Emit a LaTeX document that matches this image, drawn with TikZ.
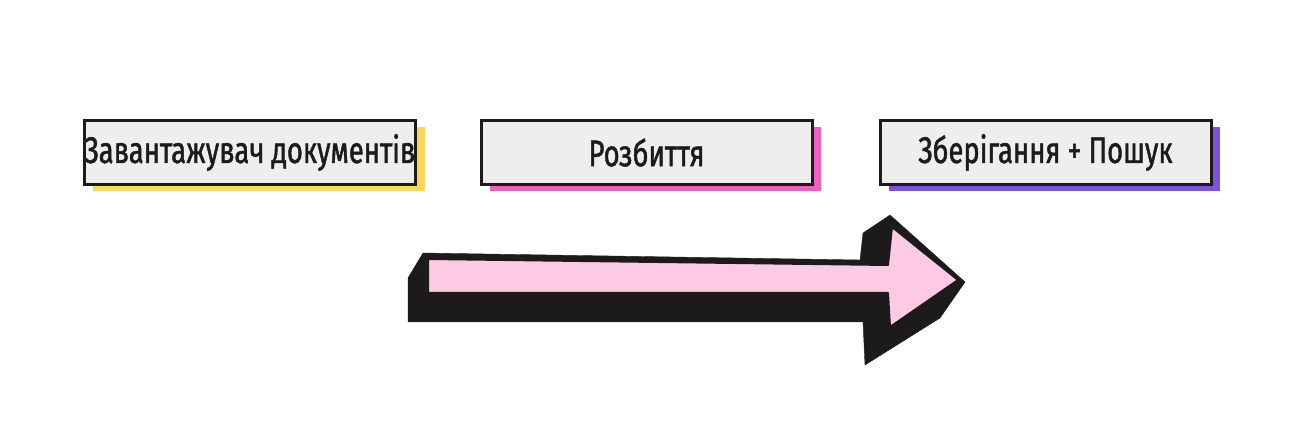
\documentclass[tikz,border=0pt]{standalone}
\usepackage{fontspec}
\newfontfamily\boxfont[FakeStretch=0.74, FakeBold=1.2]{Fira Sans}
\usepackage{tikz}
\usetikzlibrary{shadows,positioning}
\definecolor{boxfill}{HTML}{EEEEEC}
\definecolor{inkblack}{HTML}{1C1A1A}
\definecolor{sunyellow}{HTML}{F8D858}
\definecolor{hotpink}{HTML}{EE5FBE}
\definecolor{violet}{HTML}{7E52E0}
\definecolor{arrowpink}{HTML}{FDCAE4}
\tikzset{
  stagebox/.style={draw=inkblack, line width=3pt, fill=boxfill,
    minimum width=331pt, minimum height=64pt, inner sep=0pt,
    font=\boxfont\fontsize{37}{44}\selectfont, text=inkblack,
    drop shadow={shadow xshift=9pt, shadow yshift=-7pt, fill=#1, opacity=1}},
}
\begin{document}
\begin{tikzpicture}[x=1pt,y=-1pt]
            \useasboundingbox (0,0) rectangle (1310,446);

            \node[stagebox=sunyellow] (loader) at (250,152.5) {Завантажувач документів};
            \node[stagebox=hotpink] (split) at (646.5,152.5) {Розбиття};
            \node[stagebox=violet] (store) at (1045.5,152.5) {Зберігання + Пошук};

            \filldraw[inkblack, line join=round] (423,253) -- (860,260) -- (863,233) -- (890,215) -- (965,282)
                -- (940,318) -- (865,365) -- (863,322) -- (408,322) -- (408,278) -- cycle;
            \filldraw[fill=arrowpink, draw=inkblack, line width=2pt, line join=round] (428,259) -- (888,265)
                -- (892,227) -- (958,280) -- (890,327) -- (888,293) -- (428,293) -- cycle;
        \end{tikzpicture}
\end{document}
